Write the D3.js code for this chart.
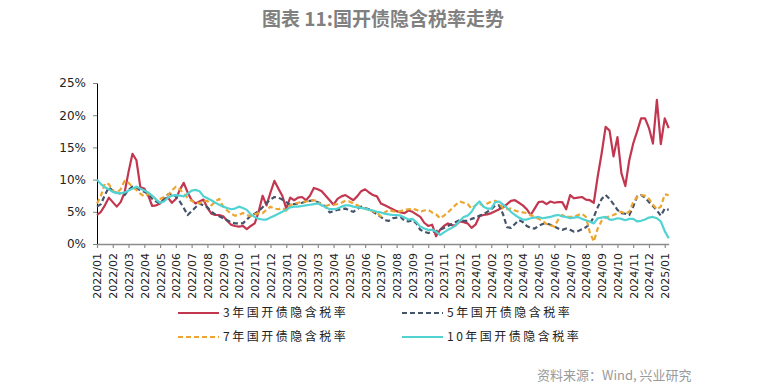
<!DOCTYPE html>
<html>
<head>
<meta charset="utf-8">
<script src="https://cdn.jsdelivr.net/npm/d3@7"></script>
<style>
	body { margin: 0; background: #fff; }
	svg { display: block; }
</style>
</head>
<body>
<svg id="chart" width="757" height="391"></svg>
<script>
// one point per quarter month, starting 2022/01
const monthLabels = [
	'2022/01', '2022/02', '2022/03', '2022/04', '2022/05', '2022/06', '2022/07', '2022/08', '2022/09', '2022/10', '2022/11', '2022/12',
	'2023/01', '2023/02', '2023/03', '2023/04', '2023/05', '2023/06', '2023/07', '2023/08', '2023/09', '2023/10', '2023/11', '2023/12',
	'2024/01', '2024/02', '2024/03', '2024/04', '2024/05', '2024/06', '2024/07', '2024/08', '2024/09', '2024/10', '2024/11', '2024/12',
	'2025/01'
];
const yTicks = [0, 5, 10, 15, 20, 25];
const seriesNames = ['3年国开债隐含税率', '5年国开债隐含税率', '7年国开债隐含税率', '10年国开债隐含税率'];

const rate3y = [
	4.5, 5.0, 6.0, 7.2, 6.5, 5.8, 6.5, 8.0,
	11.2, 14.0, 13.0, 8.8, 8.6, 7.5, 5.9, 6.0,
	6.3, 7.0, 7.2, 6.4, 7.0, 8.4, 9.5, 8.0,
	6.8, 6.3, 6.6, 6.9, 5.6, 4.7, 4.5, 4.5,
	4.3, 3.6, 3.0, 2.8, 2.7, 2.8, 2.3, 2.8,
	3.2, 5.0, 7.5, 6.0, 8.0, 9.8, 8.6, 7.5,
	5.5, 7.2, 6.8, 7.2, 7.3, 6.8, 7.5, 8.7,
	8.5, 8.2, 7.5, 6.8, 6.1, 7.0, 7.4, 7.6,
	7.2, 6.8, 7.4, 8.2, 8.5, 8.0, 7.6, 7.4,
	6.3, 6.0, 5.7, 5.4, 5.1, 4.9, 4.8, 5.2,
	5.0, 4.6, 4.2, 3.3, 2.8, 3.0, 1.2, 2.2,
	2.8, 3.2, 2.9, 2.9, 3.5, 3.4, 3.2, 2.5,
	3.0, 4.3, 4.5, 4.6, 4.8, 5.1, 5.4, 5.7,
	6.2, 6.7, 6.8, 6.4, 6.0, 5.4, 4.5, 5.5,
	6.5, 6.6, 6.2, 6.6, 6.4, 6.5, 6.5, 5.4,
	7.6, 7.1, 7.2, 7.3, 6.9, 6.8, 6.4, 10.5,
	14.1, 18.2, 17.6, 13.6, 16.6, 11.0, 9.0, 13.0,
	15.6, 17.5, 19.5, 19.5, 18.0, 15.6, 22.4, 15.5,
	19.5, 18.0
];
const rate5y = [
	5.8, 6.2, 7.6, 8.8, 8.3, 8.0, 7.8, 7.6,
	8.4, 8.9, 8.6, 8.4, 8.1, 7.8, 7.0, 6.6,
	6.3, 6.9, 7.7, 7.8, 7.4, 6.6, 5.6, 4.5,
	5.1, 5.7, 6.3, 6.0, 5.7, 5.0, 4.6, 4.3,
	4.0, 3.7, 3.4, 3.2, 3.2, 3.2, 3.8, 4.4,
	4.7, 5.1, 5.7, 6.4, 6.9, 7.3, 7.2, 6.9,
	6.5, 6.1, 6.2, 6.3, 6.4, 6.6, 6.7, 6.8,
	6.5, 6.2, 5.8, 4.9, 5.1, 5.3, 5.4, 5.5,
	5.2, 5.0, 5.4, 5.8, 5.6, 5.4, 5.0, 4.6,
	4.2, 3.7, 3.6, 4.0, 4.1, 4.2, 3.6, 3.5,
	3.7, 3.2, 2.2, 1.9, 1.7, 1.9, 2.0, 2.2,
	2.5, 2.8, 3.1, 3.4, 3.7, 3.6, 3.6, 3.9,
	4.1, 4.4, 4.6, 5.0, 5.4, 6.0, 6.0, 4.6,
	2.6, 2.5, 3.1, 3.7, 3.4, 2.8, 2.5, 2.4,
	2.8, 3.1, 3.2, 3.0, 2.7, 2.4, 2.2, 2.4,
	2.2, 1.9, 2.0, 2.3, 2.6, 3.1, 4.2, 5.7,
	7.0, 7.6, 7.0, 6.2, 5.3, 4.8, 4.7, 4.5,
	5.8, 7.4, 7.6, 7.2, 6.5, 5.9, 5.2, 4.4,
	5.5, 5.3
];
const rate7y = [
	6.3, 7.5, 9.4, 9.3, 8.3, 7.9, 8.5, 9.8,
	9.5, 8.8, 8.4, 7.8, 7.4, 7.8, 7.5, 6.9,
	7.0, 7.3, 7.6, 8.3, 8.9, 8.5, 7.8, 7.2,
	6.7, 6.4, 6.3, 6.7, 6.7, 6.0, 6.6, 7.0,
	5.8, 5.2, 4.7, 4.4, 4.5, 4.8, 4.5, 4.3,
	4.6, 4.8, 4.8, 5.3, 5.8, 5.5, 5.4, 5.6,
	5.2, 6.0, 6.3, 6.4, 6.5, 6.6, 6.7, 6.8,
	6.6, 6.0, 5.9, 6.1, 6.1, 6.2, 6.4, 6.7,
	6.6, 6.3, 6.0, 5.7, 5.5, 5.3, 5.1, 4.8,
	4.3, 4.9, 5.3, 5.1, 5.0, 5.1, 5.3, 5.4,
	5.5, 5.3, 5.0, 5.2, 5.3, 4.9, 4.6, 4.0,
	4.4, 4.9, 5.5, 6.1, 6.6, 6.4, 6.2, 5.5,
	6.0, 6.3, 5.9, 6.3, 6.6, 6.7, 6.4, 5.5,
	5.4, 5.5, 5.2, 5.0, 4.9, 4.8, 4.5, 4.2,
	3.9, 3.6, 3.1, 2.9, 2.7, 3.8, 4.5, 4.2,
	4.2, 4.2, 4.5, 4.7, 4.2, 1.8, 0.4, 2.4,
	3.6, 4.1, 4.3, 4.5, 4.8, 5.0, 4.7, 5.0,
	6.5, 7.3, 7.6, 7.5, 7.0, 6.1, 5.4, 5.8,
	7.7, 7.6
];
const rate10y = [
	10.0, 9.3, 8.8, 8.5, 8.1, 7.9, 7.9, 8.0,
	8.3, 8.6, 8.9, 8.6, 8.3, 8.0, 7.5, 6.9,
	6.4, 6.6, 7.2, 7.5, 7.6, 7.5, 7.4, 7.8,
	8.3, 8.4, 8.2, 7.4, 7.1, 6.8, 6.4, 6.1,
	5.8, 5.6, 5.4, 5.5, 5.8, 5.6, 5.3, 4.6,
	4.2, 3.9, 3.8, 3.8, 4.1, 4.4, 4.7, 5.0,
	5.3, 5.7, 5.8, 5.8, 5.9, 6.0, 6.1, 6.2,
	6.3, 6.0, 5.7, 5.4, 5.4, 5.5, 5.8, 6.0,
	6.0, 5.8, 5.7, 5.6, 5.5, 5.3, 5.2, 5.0,
	4.9, 4.7, 4.6, 4.5, 4.5, 4.4, 4.1, 3.8,
	3.9, 3.4, 2.7, 2.4, 2.2, 2.2, 1.9, 1.4,
	1.8, 2.2, 2.5, 2.9, 3.6, 4.2, 4.4, 5.0,
	6.0, 6.6, 5.8, 5.5, 5.5, 6.5, 6.6, 6.1,
	5.6, 5.0, 4.5, 4.1, 3.8, 3.8, 4.0, 4.1,
	4.2, 4.0, 4.1, 4.2, 4.4, 4.5, 4.3, 4.2,
	4.0, 4.1, 4.2, 3.9, 3.7, 3.5, 3.2, 4.0,
	4.1, 4.2, 3.8, 3.8, 4.0, 3.9, 3.7, 3.9,
	3.9, 3.5, 3.6, 3.8, 4.1, 4.2, 4.0, 3.5,
	2.0, 0.9
];

const svg = d3.select('#chart');
const cjk = '"Noto Sans CJK SC", "Noto Sans", sans-serif';

let x = d3.scaleLinear().domain([0, (rate3y.length - 1) / 4]).range([97, 668.7]);
let y = d3.scaleLinear().domain([0, 25]).range([244, 83]);

// title
svg.append('text')
	.attr('x', 383).attr('y', 26)
	.attr('text-anchor', 'middle')
	.style('font-family', cjk)
	.style('font-size', '19px')
	.style('font-weight', 'bold')
	.style('fill', '#808080')
	.text('图表 11:国开债隐含税率走势');

// y axis
let yAxis = svg.append('g')
	.attr('transform', 'translate(97,0)')
	.call(d3.axisLeft(y).tickValues(yTicks).tickFormat(d => d + '%').tickSize(4).tickSizeOuter(0).tickPadding(7));
yAxis.select('.domain').attr('stroke', '#000').attr('stroke-width', 1);
yAxis.selectAll('.tick line').attr('stroke', '#808080');
yAxis.selectAll('text')
	.style('font-family', '"DejaVu Sans", sans-serif')
	.style('font-size', '12px')
	.style('fill', '#222');

// x axis, one tick per month
let xAxis = svg.append('g')
	.attr('transform', 'translate(0,244)')
	.call(d3.axisBottom(x).tickValues(d3.range(monthLabels.length)).tickFormat(i => monthLabels[i]).tickSize(4).tickSizeOuter(0));
xAxis.select('.domain').attr('stroke', '#8c8c8c').attr('stroke-width', 1.6);
xAxis.selectAll('.tick line').attr('stroke', '#8c8c8c').attr('stroke-width', 1.2);
xAxis.selectAll('text')
	.attr('transform', 'rotate(-90)')
	.attr('text-anchor', 'end')
	.attr('x', -9).attr('y', 0).attr('dy', '0.36em')
	.style('font-family', '"DejaVu Sans", sans-serif')
	.style('font-size', '11px')
	.style('fill', '#222');

// series
let series = [
	{ name: seriesNames[0], values: rate3y, color: '#c2374f', dash: null },
	{ name: seriesNames[1], values: rate5y, color: '#44546a', dash: '5,3' },
	{ name: seriesNames[2], values: rate7y, color: '#eda531', dash: '5,3' },
	{ name: seriesNames[3], values: rate10y, color: '#52d3d3', dash: null }
];

let line = d3.line()
	.x((d, i) => x(i / 4))
	.y(d => y(d));

svg.append('g').selectAll('path')
	.data(series)
	.enter().append('path')
	.attr('d', d => line(d.values))
	.attr('fill', 'none')
	.attr('stroke', d => d.color)
	.attr('stroke-width', 2.2)
	.attr('stroke-linejoin', 'round')
	.attr('stroke-dasharray', d => d.dash);

// legend, two columns
let legend = svg.append('g').selectAll('g')
	.data(series)
	.enter().append('g')
	.attr('transform', (d, i) => `translate(${178 + (i % 2) * 224},${313 + Math.floor(i / 2) * 24})`);
legend.append('line')
	.attr('x1', 0).attr('x2', 41)
	.attr('stroke', d => d.color)
	.attr('stroke-width', 2.2)
	.attr('stroke-dasharray', d => d.dash);
legend.append('text')
	.attr('x', 45).attr('dy', '0.36em')
	.style('font-family', cjk)
	.style('font-size', '12px')
	.style('letter-spacing', '2.5px')
	.style('fill', '#222')
	.text(d => d.name);

// source
svg.append('text')
	.attr('x', 537).attr('y', 380)
	.style('font-family', cjk)
	.style('font-size', '13px')
	.style('fill', '#9a9a9a')
	.text('资料来源：Wind, 兴业研究');
</script>
</body>
</html>
